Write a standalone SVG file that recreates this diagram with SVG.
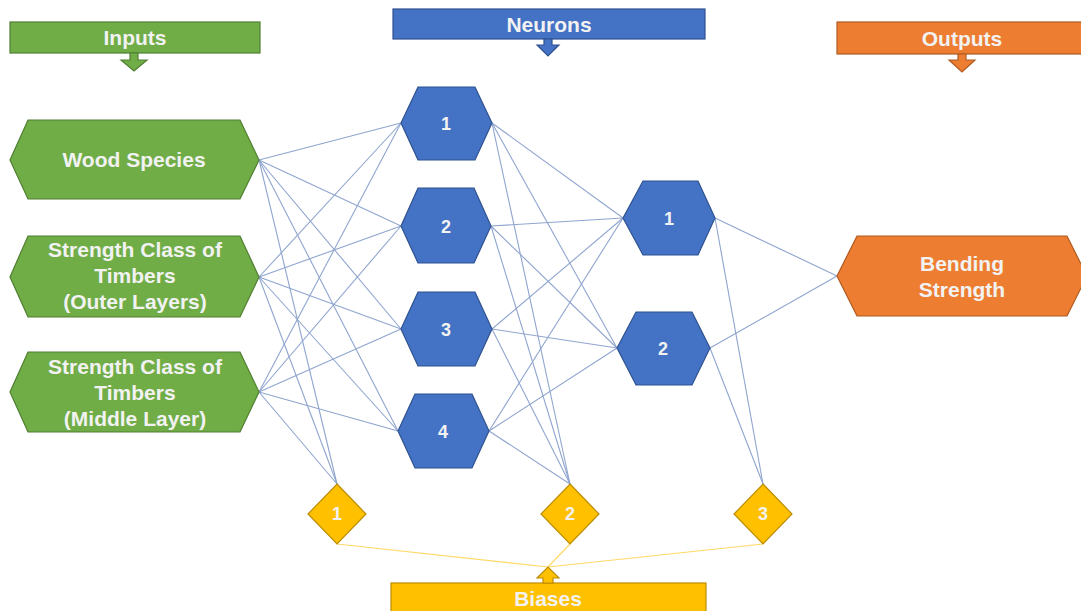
<svg xmlns="http://www.w3.org/2000/svg" width="1081" height="611" viewBox="0 0 1081 611">
<style>
.g{fill:#70AD47;stroke:#507E32;stroke-width:1.2}
.b{fill:#4472C4;stroke:#2F528F;stroke-width:1.2}
.o{fill:#ED7D31;stroke:#AE5A21;stroke-width:1.2}
.y{fill:#FFC000;stroke:#BC8C00;stroke-width:1.2}
.t{font-family:"Liberation Sans",Arial,sans-serif;font-weight:bold;fill:#F2F2F2;text-anchor:middle}
.lbl{font-size:21px}
.num{font-size:18px}
.ban{font-size:21px}
.c line{stroke:#8FA5CF;stroke-width:1.1}
.yl line{stroke:#FFD966;stroke-width:1.2}
</style>
<rect width="1081" height="611" fill="#FFFFFF"/>
<g id="connectors">
<g class="c">
<line x1="259" y1="160" x2="401" y2="123"/>
<line x1="259" y1="160" x2="401" y2="226"/>
<line x1="259" y1="160" x2="401" y2="329"/>
<line x1="259" y1="160" x2="398" y2="431"/>
<line x1="259" y1="277" x2="401" y2="123"/>
<line x1="259" y1="277" x2="401" y2="226"/>
<line x1="259" y1="277" x2="401" y2="329"/>
<line x1="259" y1="277" x2="398" y2="431"/>
<line x1="259" y1="392" x2="401" y2="123"/>
<line x1="259" y1="392" x2="401" y2="226"/>
<line x1="259" y1="392" x2="401" y2="329"/>
<line x1="259" y1="392" x2="398" y2="431"/>
<line x1="259" y1="160" x2="337" y2="484"/>
<line x1="259" y1="277" x2="337" y2="484"/>
<line x1="259" y1="392" x2="337" y2="484"/>
<line x1="492" y1="123" x2="623" y2="218"/>
<line x1="492" y1="123" x2="617" y2="348"/>
<line x1="491" y1="226" x2="623" y2="218"/>
<line x1="491" y1="226" x2="617" y2="348"/>
<line x1="492" y1="329" x2="623" y2="218"/>
<line x1="492" y1="329" x2="617" y2="348"/>
<line x1="489" y1="431" x2="623" y2="218"/>
<line x1="489" y1="431" x2="617" y2="348"/>
<line x1="492" y1="123" x2="570" y2="484"/>
<line x1="491" y1="226" x2="570" y2="484"/>
<line x1="492" y1="329" x2="570" y2="484"/>
<line x1="489" y1="431" x2="570" y2="484"/>
<line x1="715" y1="218" x2="837" y2="276"/>
<line x1="710" y1="348" x2="837" y2="276"/>
<line x1="715" y1="218" x2="763" y2="484"/>
<line x1="710" y1="348" x2="763" y2="484"/>
</g>
<g class="yl">
<line x1="337" y1="544" x2="548" y2="567"/>
<line x1="570" y1="544" x2="548" y2="567"/>
<line x1="763" y1="544" x2="548" y2="567"/>
</g>
</g>
<g id="banner-inputs">
<rect class="g" x="10" y="22" width="250" height="31"/>
<path class="g" d="M130,53 H138 V60 H147 L134,71 L121,60 H130 Z"/>
<text class="t ban" x="135" y="45">Inputs</text>
</g>
<g id="banner-neurons">
<rect class="b" x="393" y="9" width="312" height="30"/>
<path class="b" d="M544,39 H552 V45 H559 L548,56 L537,45 H544 Z"/>
<text class="t ban" x="549" y="32">Neurons</text>
</g>
<g id="banner-outputs">
<rect class="o" x="837" y="22" width="250" height="32"/>
<path class="o" d="M958,54 H966 V60 H975 L962,72 L949,60 H958 Z"/>
<text class="t ban" x="962" y="46">Outputs</text>
</g>
<g id="banner-biases">
<rect class="y" x="391" y="583" width="315" height="35"/>
<path class="y" d="M543,583 V578 H537 L548,567 L559,578 H553 V583 Z"/>
<text class="t ban" x="548" y="606">Biases</text>
</g>
<g id="input-wood-species">
<polygon class="g" points="10,160 28,120 240,120 259,160 240,199 28,199"/>
<text class="t lbl" x="134" y="167">Wood Species</text>
</g>
<g id="input-outer-layers">
<polygon class="g" points="10,277 28,236 240,236 259,277 240,317 28,317"/>
<text class="t lbl" x="135" y="257">Strength Class of</text>
<text class="t lbl" x="135" y="283">Timbers</text>
<text class="t lbl" x="135" y="309">(Outer Layers)</text>
</g>
<g id="input-middle-layer">
<polygon class="g" points="10,392 28,352 240,352 259,392 240,432 28,432"/>
<text class="t lbl" x="135" y="374">Strength Class of</text>
<text class="t lbl" x="135" y="400">Timbers</text>
<text class="t lbl" x="135" y="426">(Middle Layer)</text>
</g>
<g id="hidden1-1">
<polygon class="b" points="401,123 418,87 475,87 492,123 475,160 418,160"/>
<text class="t num" x="446" y="130">1</text>
</g>
<g id="hidden1-2">
<polygon class="b" points="401,226 418,188 474,188 491,226 474,263 418,263"/>
<text class="t num" x="446" y="233">2</text>
</g>
<g id="hidden1-3">
<polygon class="b" points="401,329 418,292 475,292 492,329 475,366 418,366"/>
<text class="t num" x="446" y="336">3</text>
</g>
<g id="hidden1-4">
<polygon class="b" points="398,431 415,394 472,394 489,431 472,468 415,468"/>
<text class="t num" x="443" y="438">4</text>
</g>
<g id="hidden2-1">
<polygon class="b" points="623,218 643,181 698,181 715,218 698,255 643,255"/>
<text class="t num" x="669" y="225">1</text>
</g>
<g id="hidden2-2">
<polygon class="b" points="617,348 636,312 692,312 710,348 692,385 636,385"/>
<text class="t num" x="663" y="355">2</text>
</g>
<g id="output-bending-strength">
<polygon class="o" points="837,276 857,236 1067,236 1087,276 1067,316 857,316"/>
<text class="t lbl" x="962" y="271">Bending</text>
<text class="t lbl" x="962" y="297">Strength</text>
</g>
<g id="bias-1">
<polygon class="y" points="337,484 366,514 337,544 308,514"/>
<text class="t num" x="337" y="520">1</text>
</g>
<g id="bias-2">
<polygon class="y" points="570,484 599,514 570,544 541,514"/>
<text class="t num" x="570" y="520">2</text>
</g>
<g id="bias-3">
<polygon class="y" points="763,484 792,514 763,544 734,514"/>
<text class="t num" x="763" y="520">3</text>
</g>
</svg>
